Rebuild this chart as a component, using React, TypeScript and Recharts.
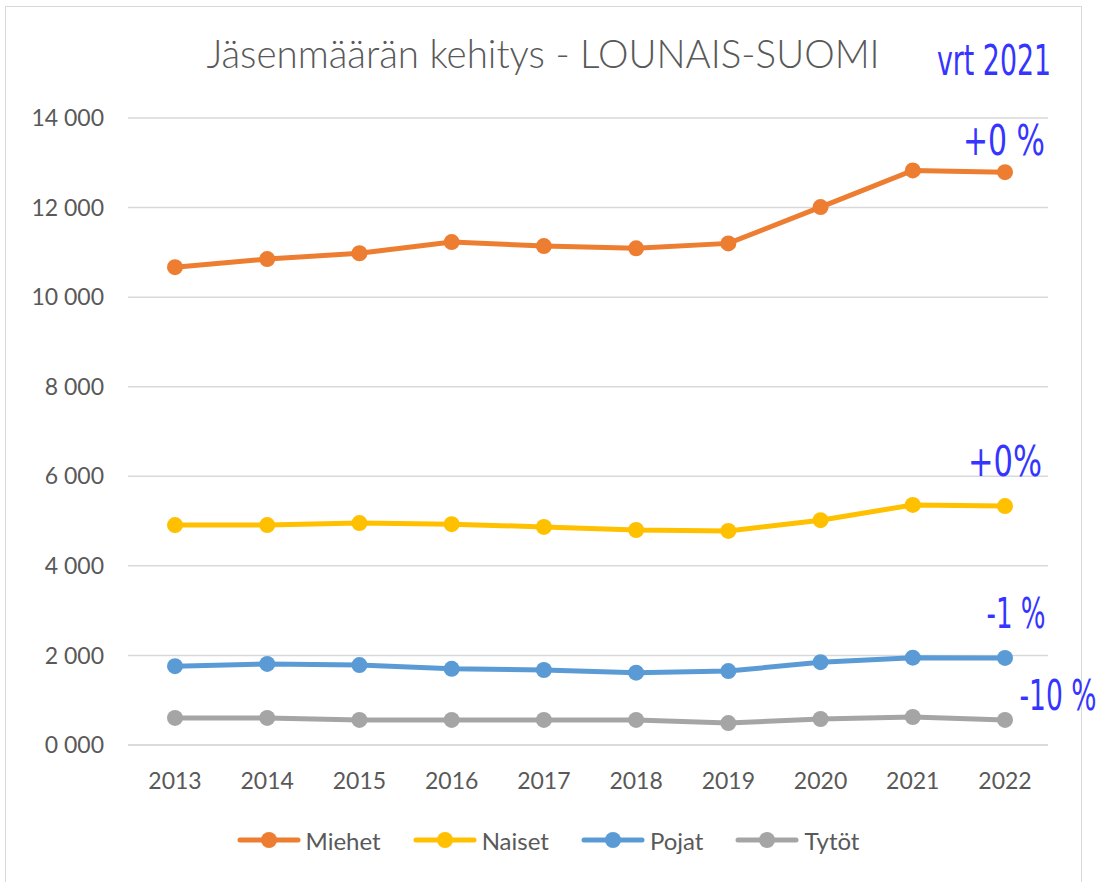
import React from 'react'
import { LineChart, Line, XAxis, YAxis, CartesianGrid, Legend, LabelList } from 'recharts'

const years = ['2013', '2014', '2015', '2016', '2017', '2018', '2019', '2020', '2021', '2022']
const miehet = [10670, 10850, 10980, 11230, 11140, 11090, 11200, 12010, 12830, 12790]
const naiset = [4910, 4910, 4955, 4930, 4870, 4800, 4780, 5020, 5360, 5335]
const pojat = [1760, 1810, 1785, 1700, 1675, 1615, 1650, 1850, 1950, 1945]
const tytot = [605, 605, 560, 560, 560, 560, 490, 580, 625, 560]
const yTicks = [0, 2000, 4000, 6000, 8000, 10000, 12000, 14000]
const changes = ['+0 %', '+0%', '-1 %', '-10 %']

const data = years.map((y, i) => ({ year: y, Miehet: miehet[i], Naiset: naiset[i], Pojat: pojat[i], Tytot: tytot[i] }))

const series = [
  { key: 'Miehet', name: 'Miehet', color: '#ED7D31', note: changes[0], dx: -1, dy: -17, w: 82 },
  { key: 'Naiset', name: 'Naiset', color: '#FFC000', note: changes[1], dx: 0, dy: -30, w: 74 },
  { key: 'Pojat', name: 'Pojat', color: '#5B9BD5', note: changes[2], dx: 11, dy: -30, w: 59 },
  { key: 'Tytot', name: 'Tytöt', color: '#A5A5A5', note: changes[3], dx: 53, dy: -10, w: 77 },
]

const FONT = 'Lato, "Open Sans", sans-serif'
const NOTE_FONT = '"Liberation Sans Narrow", "DejaVu Sans Condensed", sans-serif'
const NOTE_COLOR = '#3535FF'

const fmt = (v: number) => `${Math.floor(v / 1000)} ${String(v % 1000).padStart(3, '0')}`

function LegendBox() {
  return (
    <div style={{ display: 'flex', justifyContent: 'center', alignItems: 'center', height: 30, paddingLeft: 20,
      fontFamily: FONT, fontSize: 24, color: '#595959' }}>
      {series.map(s => (
        <div key={s.key} style={{ display: 'flex', alignItems: 'center', margin: '0 16px' }}>
          <svg width={64} height={20}>
            <line x1={3} y1={10} x2={61} y2={10} stroke={s.color} strokeWidth={5} strokeLinecap="round" />
            <circle cx={32} cy={10} r={8} fill={s.color} />
          </svg>
          <span style={{ marginLeft: 5 }}>{s.name}</span>
        </div>
      ))}
    </div>
  )
}

export default function App() {
  return (
    <div style={{ position: 'absolute', left: 5, top: 6, width: 1100, height: 880 }}>
      <div style={{ position: 'absolute', left: 0, top: 0, width: 1077, height: 880, border: '1.5px solid #d9d9d9', boxSizing: 'border-box' }} />
      <svg width={1077} height={100} style={{ position: 'absolute', left: 0, top: 0, pointerEvents: 'none' }}>
        <text x={538} y={62} textAnchor="middle" fontFamily={FONT} fontWeight={300} fontSize={38.5} fill="#595959">
          Jäsenmäärän kehitys - LOUNAIS-SUOMI
        </text>
        <text x={932} y={69} fontFamily={NOTE_FONT} fontSize={42} fill={NOTE_COLOR} textLength={114} lengthAdjust="spacingAndGlyphs">
          vrt 2021
        </text>
      </svg>
      <LineChart width={1100} height={880} data={data} margin={{ top: 112, right: 57, bottom: 31, left: 23 }}>
        <CartesianGrid vertical={false} stroke="#d9d9d9" strokeWidth={1.5} />
        <XAxis dataKey="year" height={80} tickSize={0} tickMargin={28} padding={{ left: 47, right: 43 }}
          axisLine={{ stroke: '#d9d9d9', strokeWidth: 1.5 }}
          tick={{ fontFamily: FONT, fontSize: 23, fill: '#595959' }} />
        <YAxis width={100} domain={[0, 14000]} ticks={yTicks} tickFormatter={fmt} tickSize={0} tickMargin={24} axisLine={false}
          tick={{ fontFamily: FONT, fontSize: 23, fill: '#595959' }} />
        <Legend verticalAlign="bottom" content={() => <LegendBox />} />
        {series.map(s => (
          <Line key={s.key} dataKey={s.key} name={s.name} stroke={s.color} strokeWidth={5}
            dot={{ r: 8, fill: s.color, stroke: s.color, strokeWidth: 0 }} activeDot={false} isAnimationActive={false}>
            <LabelList dataKey={s.key} content={(p: any) => p.index === years.length - 1 ? (
              <text x={p.x + s.dx} y={p.y + s.dy} textAnchor="middle" fontFamily={NOTE_FONT} fontSize={42} fill={NOTE_COLOR}
                textLength={s.w} lengthAdjust="spacingAndGlyphs">{s.note}</text>
            ) : null} />
          </Line>
        ))}
      </LineChart>
    </div>
  )
}
